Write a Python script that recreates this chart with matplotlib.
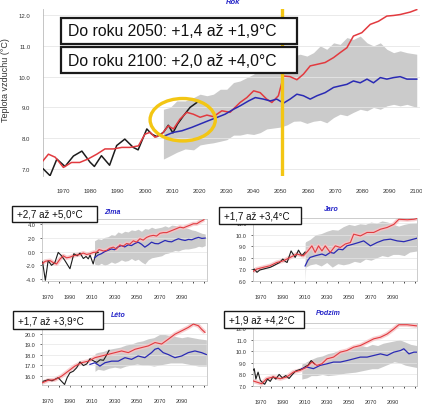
import matplotlib
matplotlib.use("Agg")
import matplotlib.pyplot as plt
from matplotlib.patches import Rectangle, Ellipse

plt.rcParams['font.family'] = ['Liberation Sans', 'DejaVu Sans']

# ---------------- DATA ----------------
# Main panel "Rok"
rok_obs_years = [1962.6, 1965.1, 1967.6, 1970.6, 1973.7, 1976.8, 1979.8, 1981.4, 1984, 1987, 1989.6,
                 1992.6, 1995.7, 1997.5, 2000.7, 2002.5, 2004.4, 2006.8, 2008.6, 2010.3, 2012, 2014.2,
                 2016.6, 2019.1]
rok_obs = [7.0, 6.78, 7.32, 7.08, 7.42, 7.58, 7.22, 7.08, 7.43, 7.12, 7.76,
           7.97, 7.7, 7.62, 8.3, 8.13, 8.05, 8.19, 8.42, 8.17, 8.46, 8.73,
           9.0, 9.16]
rok_red_years = [1962, 1964.5, 1967, 1970, 1973, 1976, 1979, 1982.3, 1985.3, 1988.4, 1991.5, 1994.5,
                 1997.6, 2000, 2001.9, 2003.7, 2006.2, 2008.6, 2010.5, 2012.9, 2015.4, 2017.8, 2020.3,
                 2022.8, 2025.2, 2028.3, 2031.3, 2035, 2037.5, 2040, 2042.4, 2044.8, 2046.7, 2049.1,
                 2051, 2053.4, 2055.9, 2058.3, 2060.8, 2063.3, 2066.3, 2069.4, 2071.8, 2074.3, 2076.7,
                 2079.8, 2082.9, 2085.9, 2089, 2091.5, 2093.9, 2097.6, 2100]
rok_red = [7.21, 7.48, 7.38, 7.05, 7.21, 7.21, 7.32, 7.48, 7.65, 7.65, 7.7, 7.7,
           7.75, 8.13, 8.19, 8.03, 8.13, 8.4, 8.3, 8.62, 8.84, 8.78, 8.68,
           8.75, 8.7, 8.89, 8.84, 9.16, 9.32, 9.54, 9.48, 9.27, 9.16, 9.38,
           10.02, 10.0, 9.9, 10.08, 10.35, 10.4, 10.46, 10.62, 10.78, 10.94, 11.32,
           11.43, 11.7, 11.8, 11.97, 11.99, 12.02, 12.1, 12.18]
rok_blue_years = [2007.4, 2010.5, 2013.6, 2017.2, 2020.3, 2023.4, 2026.4, 2029.5, 2032.6, 2035, 2038.1,
                  2040.6, 2043.6, 2046.1, 2048.5, 2051, 2053.4, 2055.9, 2058.3, 2060.8, 2063.3, 2066.3,
                  2069.4, 2071.8, 2074.3, 2076.7, 2079.2, 2081.7, 2084.1, 2086.6, 2089, 2091.5, 2093.9,
                  2096.4, 2100]
rok_blue = [8.08, 8.19, 8.24, 8.35, 8.46, 8.57, 8.67, 8.78, 8.94, 9.05, 9.21,
            9.32, 9.27, 9.21, 9.27, 9.14, 9.27, 9.43, 9.38, 9.27, 9.38, 9.48,
            9.65, 9.7, 9.75, 9.86, 9.8, 9.92, 9.8, 9.97, 9.92, 9.97, 10.0,
            9.92, 9.92]
rok_band_years = [2006.8, 2009.3, 2011.7, 2014.8, 2017.9, 2020.3, 2022.8, 2025.2, 2027.7, 2030.1, 2032.6,
                  2035, 2037.5, 2040, 2042.4, 2044.8, 2047.3, 2049.8, 2052.2, 2054.7, 2057.1, 2059.6,
                  2062, 2064.5, 2066.9, 2069.4, 2071.8, 2074.3, 2076.7, 2079.2, 2081.7, 2084.1, 2086.6,
                  2089, 2091.5, 2093.9, 2096.4, 2100]
rok_band_hi = [8.94, 9.0, 9.21, 9.21, 9.32, 9.43, 9.38, 9.43, 9.59, 9.59, 9.81,
               9.86, 9.97, 10.08, 10.29, 10.4, 10.35, 10.35, 10.56, 10.67, 10.73, 10.67,
               10.78, 11.0, 10.89, 11.1, 11.05, 11.27, 11.21, 11.32, 11.1, 11.0, 11.1,
               10.89, 10.78, 10.84, 10.78, 10.73]
rok_band_lo = [7.32, 7.43, 7.54, 7.65, 7.62, 7.78, 7.82, 7.85, 7.9, 7.95, 8.1,
               8.1, 8.15, 8.12, 8.18, 8.3, 8.33, 8.36, 8.43, 8.55, 8.56, 8.48,
               8.55, 8.58, 8.5, 8.67, 8.78, 8.73, 8.84, 8.94, 8.89, 9.0, 8.94,
               9.05, 9.1, 9.05, 9.1, 9.0]
rok_ticks_x = [1970, 1980, 1990, 2000, 2010, 2020, 2030, 2040, 2050, 2060, 2070, 2080, 2090, 2100]
rok_ticks_y = [7.0, 8.0, 9.0, 10.0, 11.0, 12.0]
rok_marker_year = 2050.5
rok_circle = (2013.9, 8.6, 24.0, 1.38)   # centre year, centre value, width (years), height (deg)
rok_title = "Rok"
rok_ylabel = "Teplota vzduchu (°C)"
rok_notes = ["Do roku 2050: +1,4 až +1,9°C", "Do roku 2100: +2,0 až +4,0°C"]

# Zima
zima_obs_years = [1965.5, 1968, 1970.5, 1973.5, 1976.5, 1979.5, 1982.5, 1985.5, 1990, 1993.5, 1996.5,
                  1999, 2002, 2004.4, 2006.4, 2008, 2010.8, 2013.2, 2015.3]
zima_obs = [-1.5, -4.2, -1.3, -2.0, -1.6, -0.1, -0.6, -1.3, -2.5, -0.3, -0.6,
            -0.2, -1.0, -0.7, -1.05, -0.5, -1.8, -0.2, -0.1]
zima_red_years = [1965.5, 1968, 1972.1, 1975, 1978, 1981, 1984, 1987, 1990, 1993, 1995.9, 1999, 2001.9,
                  2005, 2007.9, 2011, 2013.8, 2016, 2018.3, 2020, 2022.8, 2025.5, 2028.8, 2031.5, 2034.7,
                  2037.5, 2040.7, 2043.5, 2046.7, 2049.5, 2052.6, 2055.5, 2058.6, 2061.5, 2064.6, 2067.5,
                  2070.5, 2073.5, 2076.5, 2079.5, 2082.5, 2085.5, 2088.4, 2091.5, 2094.4, 2097.5, 2100.4,
                  2103.5, 2106.3, 2109.9]
zima_red = [-1.7, -1.4, -1.3, -1.6, -1.8, -1.1, -0.6, -0.9, -0.8, -0.6, -0.5, -0.4, -0.2,
            -0.4, -0.3, -0.1, -0.07, 0.3, 0.2, 0.1, 0.2, 0.5, 0.67, 0.4, 1.0,
            0.8, 1.2, 1.1, 1.6, 1.4, 1.9, 1.7, 2.1, 2.3, 2.4, 2.3,
            2.7, 2.8, 2.8, 3.0, 3.2, 3.4, 3.6, 3.5, 3.7, 3.9, 4.1,
            4.1, 4.4, 4.7]
zima_blue_years = [2012, 2015, 2018, 2021, 2024, 2027, 2030, 2033, 2036, 2039, 2042, 2045, 2048, 2051,
                   2054, 2057, 2060, 2063, 2066, 2069, 2072, 2075, 2078, 2081, 2084, 2087, 2090, 2093,
                   2096, 2099, 2102, 2105, 2108, 2111]
zima_blue = [-0.9, -0.5, -0.3, 0.0, 0.2, 0.4, 0.3, 0.7, 0.9, 0.7, 1.0, 0.9, 1.2, 1.4,
             1.1, 0.67, 1.0, 1.4, 1.2, 1.16, 1.4, 1.65, 1.5, 1.45, 1.7, 1.9, 1.75, 1.65,
             1.8, 1.75, 1.95, 2.1, 1.95, 2.0]
zima_band_years = [2012, 2015, 2018, 2021, 2024, 2027, 2030, 2033, 2036, 2039, 2042, 2045, 2048, 2051,
                   2054, 2057, 2060, 2063, 2066, 2069, 2072, 2075, 2078, 2081, 2084, 2087, 2090, 2093,
                   2096, 2099, 2102, 2105, 2108, 2111]
zima_band_hi = [1.6, 1.9, 1.8, 2.1, 2.2, 2.5, 2.4, 2.9, 2.7, 3.0, 2.9, 3.2, 3.1, 3.3,
                3.0, 3.4, 3.3, 3.6, 3.4, 3.5, 3.6, 3.8, 3.6, 3.9, 3.85, 3.7, 3.6, 3.5,
                3.4, 3.2, 3.1, 2.9, 2.7, 2.6]
zima_band_lo = [-1.8, -2.0, -1.7, -2.0, -1.8, -1.5, -1.7, -1.5, -1.2, -1.4, -1.3, -1.0, -1.3, -1.1,
                -1.5, -1.8, -1.2, -0.9, -0.8, -0.7, -0.6, -0.3, -0.2, 0.0, 0.17, 0.1, 0.3, 0.4,
                0.4, 0.5, 0.6, 0.8, 0.7, 0.9]
zima_ticks_y = [-4.0, -2.0, 0.0, 2.0, 4.0]

# Jaro
jaro_obs_years = [1962.2, 1964.6, 1967, 1969.5, 1972.7, 1975.5, 1978.8, 1981.5, 1984.9, 1987.5, 1990.3,
                  1992.5, 1994.2, 1997.8, 2001.5, 2004.5, 2007.5, 2010.5]
jaro_obs = [6.89, 7.03, 6.75, 6.95, 7.03, 7.1, 7.18, 7.3, 7.47, 7.6, 7.9,
            7.7, 7.6, 8.6, 8.04, 8.67, 8.18, 8.5]
jaro_red_years = [1962.2, 1966.7, 1972.7, 1978.8, 1984.9, 1991, 1996.9, 2003, 2009, 2013, 2016.6, 2019.6,
                  2022.6, 2025.7, 2028.7, 2033.2, 2037.8, 2042.3, 2046.8, 2051.4, 2054.4, 2060.4,
                  2066.5, 2072.5, 2078.6, 2084.6, 2090.7, 2095.2, 2102.8, 2108.8, 2111.5]
jaro_red = [6.75, 7.03, 7.18, 7.32, 7.6, 7.75, 8.04, 8.33, 8.18, 8.6, 9.04, 8.47,
            9.04, 8.6, 9.04, 8.47, 9.04, 8.9, 9.2, 9.33, 10.05, 9.9,
            10.2, 10.2, 10.48, 10.63, 10.9, 11.34, 11.3, 11.34, 11.4]
jaro_blue_years = [2010.5, 2013, 2015, 2019.6, 2025.7, 2029, 2033.2, 2036.5, 2040.8, 2044.5, 2048.3,
                   2054.4, 2058.9, 2063.4, 2069.5, 2075.5, 2081.6, 2087.6, 2093.7, 2099.7, 2105.7, 2111.5]
jaro_blue = [7.3, 7.8, 8.04, 8.18, 8.33, 8.2, 8.47, 8.4, 8.76, 8.7, 9.04,
             9.2, 9.33, 9.47, 9.04, 9.33, 9.55, 9.62, 9.47, 9.4, 9.55, 9.7]
jaro_band_years = [2010.5, 2011, 2015, 2020, 2025, 2030, 2035, 2040, 2045, 2050, 2055, 2060, 2065, 2070,
                   2075, 2080, 2085, 2090, 2095, 2100, 2105, 2111.5]
jaro_band_hi = [9.3, 9.4, 9.6, 10.0, 10.1, 10.3, 10.45, 10.4, 10.7, 10.9, 10.8, 10.95, 10.9, 11.1,
                11.0, 11.2, 11.1, 10.9, 10.75, 10.9, 11.0, 11.05]
jaro_band_lo = [6.0, 7.2, 7.4, 7.5, 7.3, 7.6, 7.2, 7.5, 7.4, 7.5, 7.7, 7.6, 7.9, 7.8,
                8.0, 8.2, 8.1, 8.3, 8.3, 8.2, 8.5, 8.6]
jaro_ticks_y = [6.0, 7.0, 8.0, 9.0, 10.0, 11.0]

# Leto
leto_obs_years = [1966, 1970.5, 1974, 1979.5, 1982.5, 1985.2, 1987.5, 1990, 1993, 1996, 1999, 2002,
                  2005, 2008, 2011, 2014, 2017, 2020, 2022.5, 2025]
leto_obs = [15.45, 15.6, 15.5, 15.8, 15.45, 15.15, 15.8, 16.26, 16.41, 16.74, 17.3, 16.95,
            17.1, 17.6, 17.4, 17.25, 17.5, 17.45, 17.9, 18.4]
leto_red_years = [1965, 1970.5, 1976.5, 1982.5, 1988.4, 1994.4, 2000.4, 2006.4, 2012.4, 2018.3, 2024.3,
                  2030.3, 2036.2, 2042.2, 2048.2, 2054.1, 2060.1, 2066.1, 2072, 2078, 2084, 2090,
                  2095.9, 2100.4, 2104.9, 2107.8, 2110.8]
leto_red = [15.3, 15.55, 15.6, 15.94, 16.41, 16.9, 17.22, 17.37, 17.7, 17.86, 18.02,
            18.18, 18.34, 18.18, 18.5, 18.66, 18.82, 19.14, 19.0, 19.46, 19.94, 20.26,
            20.58, 20.9, 20.74, 20.4, 20.1]
leto_blue_years = [2007.9, 2012.4, 2016.8, 2021.3, 2027.3, 2033.2, 2039.2, 2045.1, 2051, 2057, 2063,
                   2066, 2069, 2073.4, 2077.9, 2083.9, 2089.9, 2095.8, 2101.8, 2107.8, 2112]
leto_blue = [17.06, 17.22, 16.9, 17.22, 17.37, 17.37, 17.7, 17.54, 17.86, 17.7, 18.18,
             18.5, 18.6, 18.18, 18.0, 17.7, 17.86, 18.18, 18.34, 18.18, 18.0]
leto_band_years = [2012.4, 2015, 2020, 2025, 2030, 2035, 2040, 2045, 2050, 2055, 2060, 2065, 2070,
                   2075, 2080, 2085, 2090, 2095, 2100, 2105, 2112]
leto_band_hi = [18.1, 18.2, 18.3, 18.5, 18.6, 18.7, 18.9, 19.0, 19.2, 19.3, 19.5, 19.6, 19.9,
                19.9, 19.8, 19.7, 19.6, 19.7, 19.6, 19.5, 19.4]
leto_band_lo = [16.4, 16.6, 16.5, 16.7, 16.8, 16.7, 16.9, 17.0, 17.1, 17.0, 17.0, 16.9, 17.0,
                17.1, 17.2, 17.2, 17.2, 17.1, 17.0, 16.9, 16.9]
leto_ticks_y = [16.0, 17.0, 18.0, 19.0, 20.0, 21.0]

# Podzim
podzim_obs_years = [1963, 1964.5, 1966, 1968, 1970, 1972, 1974, 1976.5, 1979, 1981.5, 1984, 1987,
                    1990, 1993, 1996, 1999, 2002, 2005, 2008.4, 2011, 2013, 2016, 2019]
podzim_obs = [8.3, 8.5, 7.6, 8.2, 7.5, 7.3, 7.15, 7.6, 7.4, 7.8, 7.6, 8.0,
              7.7, 7.9, 7.65, 8.0, 8.3, 8.4, 8.5, 8.7, 8.78, 9.2, 8.92]
podzim_red_years = [1962.2, 1966.7, 1971.3, 1975.8, 1981.8, 1987.9, 1993.9, 1999.9, 2006, 2012, 2016.6,
                    2021.1, 2025.6, 2030.2, 2036.2, 2042.3, 2048.3, 2054.4, 2060.4, 2066.5, 2072.5,
                    2078.6, 2084.6, 2090.7, 2095.2, 2102.8, 2111.5]
podzim_red = [7.48, 7.34, 7.2, 7.63, 7.78, 7.63, 7.78, 8.2, 8.35, 8.64, 9.07,
              8.78, 8.92, 9.35, 9.5, 9.93, 10.07, 10.36, 10.5, 10.79, 11.08,
              11.22, 11.5, 11.94, 12.3, 12.3, 12.2]
podzim_blue_years = [2007.5, 2012, 2018, 2024, 2030.2, 2036.2, 2042.3, 2048.3, 2054.4, 2060.4, 2066.5,
                     2072.5, 2078.6, 2084.6, 2090.7, 2096.7, 2099.7, 2104.3, 2108.8, 2111.5]
podzim_blue = [8.5, 8.64, 8.5, 8.78, 8.92, 9.07, 9.07, 9.2, 9.35, 9.5, 9.5,
               9.64, 9.78, 9.64, 9.93, 10.07, 10.22, 9.78, 9.93, 9.93]
podzim_band_years = [2007.5, 2012, 2016, 2021, 2026, 2031, 2036, 2041, 2046, 2051, 2056, 2061, 2066,
                     2071, 2076, 2081, 2086, 2091, 2096, 2101, 2106, 2111.5]
podzim_band_hi = [8.9, 9.1, 9.3, 9.5, 9.6, 9.8, 9.9, 10.1, 10.0, 10.2, 10.4, 10.5, 10.4,
                  10.6, 10.5, 10.7, 10.8, 10.9, 11.0, 10.8, 10.6, 10.5]
podzim_band_lo = [7.6, 7.7, 7.9, 7.9, 8.0, 7.9, 7.95, 8.0, 8.1, 8.15, 8.2, 8.3, 8.4,
                  8.5, 8.5, 8.7, 8.9, 9.1, 9.0, 8.8, 8.7, 8.6]
podzim_ticks_y = [7.0, 8.0, 9.0, 10.0, 11.0, 12.0]

season_ticks_x = [1970, 1990, 2010, 2030, 2050, 2070, 2090]
season_titles = ["Zima", "Jaro", "Léto", "Podzim"]
season_notes = ["+2,7 až +5,0°C", "+1,7 až +3,4°C", "+1,7 až +3,9°C", "+1,9 až +4,2°C"]

# ---------------- STYLE ----------------
W, H = 422, 410
RED = '#e23a3f'
RED_HALO = '#f6c4c6'
BLUE = '#2a2ab4'
BLACK = '#1c1c1c'
GREY = '#cbcbcb'
YELLOW = '#f3c614'
TITLE_BLUE = '#2424c8'
TICK_C = '#333333'

fig = plt.figure(figsize=(W / 100, H / 100), dpi=100)
fig.patch.set_facecolor('white')


def ax_px(l, t, r, b):
    return fig.add_axes([l / W, 1 - b / H, (r - l) / W, (b - t) / H])


def box(l, t, r, b, text, fs, lw, pad):
    fig.add_artist(Rectangle((l / W, 1 - b / H), (r - l) / W, (b - t) / H,
                             transform=fig.transFigure, fc='white', ec='#1a1a1a',
                             lw=lw, zorder=20))
    fig.text((l + pad) / W, 1 - (t + b) / 2 / H, text, fontsize=fs, color='#111111',
             ha='left', va='center', zorder=21)


# ---------------- MAIN PANEL ----------------
ax = ax_px(43, 10, 420, 177)
ax.fill_between(rok_band_years, rok_band_lo, rok_band_hi, color=GREY, lw=0, zorder=1)
ax.plot(rok_obs_years, rok_obs, color=BLACK, lw=1.1, zorder=3)
ax.plot(rok_red_years, rok_red, color=RED, lw=1.1, zorder=4)
ax.plot(rok_blue_years, rok_blue, color=BLUE, lw=1.1, zorder=4)
ax.axvline(rok_marker_year, color=YELLOW, lw=2.4, zorder=6)
cx, cy, cw, ch = rok_circle
ax.add_patch(Ellipse((cx, cy), cw, ch, fill=False, ec=YELLOW, lw=2.4, zorder=7))
ax.set_xlim(1962.5, 2101.2)
ax.set_ylim(6.77, 12.2)
ax.set_xticks(rok_ticks_x)
ax.set_yticks(rok_ticks_y)
ax.set_yticklabels([f"{v:.1f}" for v in rok_ticks_y])
ax.tick_params(labelsize=4.3, colors=TICK_C, length=0, pad=9)
ax.tick_params(axis='y', pad=9)
ax.grid(axis='y', color='#e6e6e6', lw=0.6, zorder=0)
for s in ['top', 'right', 'bottom']:
    ax.spines[s].set_visible(False)
ax.spines['left'].set_color('#bbbbbb')
ax.spines['left'].set_linewidth(0.6)
ax.set_ylabel(rok_ylabel, fontsize=6.5, color='#333333')
ax.yaxis.set_label_coords(-33 / 377, 0.58)
fig.text(233 / W, 1 - 2.5 / H, rok_title, fontsize=5.5, color=TITLE_BLUE,
         style='italic', weight='bold', ha='center', va='center')

box(61, 19, 297, 45, rok_notes[0], 11.3, 1.6, 7)
box(61, 48, 297, 74, rok_notes[1], 11.3, 1.6, 7)

# ---------------- SEASON PANELS ----------------
panels = [
    dict(rect=(42, 220, 207, 282), xlim=(1965, 2112.6), ylim=(-4.3, 4.8),
         obs=(zima_obs_years, zima_obs), red=(zima_red_years, zima_red),
         blue=(zima_blue_years, zima_blue),
         band=(zima_band_years, zima_band_lo, zima_band_hi), yt=zima_ticks_y,
         title=season_titles[0], tpos=(112, 213), note=season_notes[0], nbox=(12, 207, 97, 223)),
    dict(rect=(253, 219, 417, 282), xlim=(1963.4, 2111.6), ylim=(6.0, 11.45),
         obs=(jaro_obs_years, jaro_obs), red=(jaro_red_years, jaro_red),
         blue=(jaro_blue_years, jaro_blue),
         band=(jaro_band_years, jaro_band_lo, jaro_band_hi), yt=jaro_ticks_y,
         title=season_titles[1], tpos=(331, 210), note=season_notes[1], nbox=(219, 208, 301, 225)),
    dict(rect=(42, 324, 207, 386), xlim=(1965, 2112.6), ylim=(15.1, 21.0),
         obs=(leto_obs_years, leto_obs), red=(leto_red_years, leto_red),
         blue=(leto_blue_years, leto_blue),
         band=(leto_band_years, leto_band_lo, leto_band_hi), yt=leto_ticks_y,
         title=season_titles[2], tpos=(118, 316), note=season_notes[2], nbox=(13, 312, 103, 330)),
    dict(rect=(253, 324, 417, 387), xlim=(1963.4, 2111.6), ylim=(7.0, 12.45),
         obs=(podzim_obs_years, podzim_obs), red=(podzim_red_years, podzim_red),
         blue=(podzim_blue_years, podzim_blue),
         band=(podzim_band_years, podzim_band_lo, podzim_band_hi), yt=podzim_ticks_y,
         title=season_titles[3], tpos=(328, 314), note=season_notes[3], nbox=(224, 312, 304, 329)),
]

for p in panels:
    a = ax_px(*p['rect'])
    by, blo, bhi = p['band']
    a.fill_between(by, blo, bhi, color=GREY, lw=0, zorder=1)
    a.plot(*p['red'], color=RED_HALO, lw=3.0, alpha=0.8, zorder=2, solid_capstyle='butt')
    a.plot(*p['obs'], color=BLACK, lw=0.8, zorder=3)
    a.plot(*p['blue'], color=BLUE, lw=0.9, zorder=4)
    a.plot(*p['red'], color=RED, lw=0.8, zorder=5)
    a.set_xlim(*p['xlim'])
    a.set_ylim(*p['ylim'])
    a.set_xticks(season_ticks_x)
    a.set_xticks(range(1970, 2111, 10), minor=True)
    a.set_yticks(p['yt'])
    a.set_yticklabels([f"{v:.1f}" for v in p['yt']])
    a.tick_params(labelsize=4.0, colors=TICK_C, length=1.5, width=0.5, pad=8)
    a.tick_params(axis='x', which='minor', length=1.5, width=0.5)
    a.tick_params(axis='y', pad=3)
    a.grid(axis='y', color='#e6e6e6', lw=0.5, zorder=0)
    for s in a.spines.values():
        s.set_color('#c4c4c4')
        s.set_linewidth(0.6)
    fig.text(p['tpos'][0] / W, 1 - p['tpos'][1] / H, p['title'], fontsize=5, color=TITLE_BLUE,
             style='italic', weight='bold', ha='center', va='center')
    l, t, r, b = p['nbox']
    box(l, t, r, b, p['note'], 7.1, 1.0, 5)

fig.savefig('out.png', dpi=100, facecolor='white')
